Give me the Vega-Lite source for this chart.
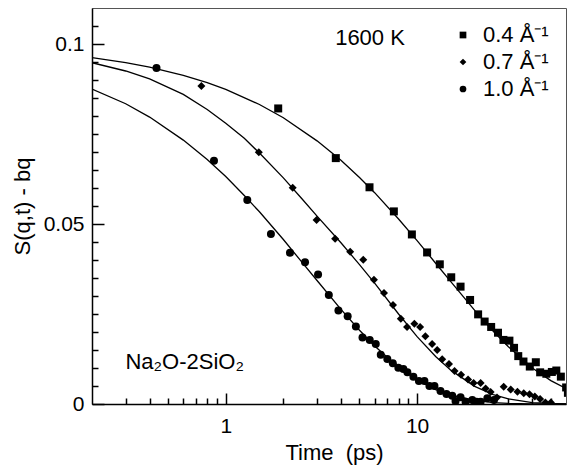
{
  "$schema": "https://vega.github.io/schema/vega-lite/v6.json",
  "width": 474,
  "height": 396,
  "autosize": "none",
  "padding": {"left": 92, "top": 8, "right": 10, "bottom": 62},
  "background": "white",
  "config": {
    "font": "Liberation Sans",
    "view": {"stroke": "#555555", "strokeWidth": 1},
    "axis": {
      "grid": false,
      "domainColor": "black",
      "domainWidth": 1.5,
      "tickColor": "#000000",
      "tickWidth": 1.5,
      "labelColor": "black",
      "titleColor": "black",
      "labelFont": "Liberation Sans",
      "titleFont": "Liberation Sans",
      "titleFontWeight": "normal",
      "labelFontSize": 21,
      "titleFontSize": 22,
      "labelOverlap": false,
      "labelFlush": false
    }
  },
  "resolve": {"axis": {"x": "independent", "y": "independent"}},
  "datasets": {
    "points": [
      {"t": 1.88, "v": 0.0821, "q": "0.4"},
      {"t": 3.76, "v": 0.0683, "q": "0.4"},
      {"t": 5.64, "v": 0.0602, "q": "0.4"},
      {"t": 7.56, "v": 0.0535, "q": "0.4"},
      {"t": 9.39, "v": 0.0471, "q": "0.4"},
      {"t": 11.28, "v": 0.0421, "q": "0.4"},
      {"t": 13.14, "v": 0.0388, "q": "0.4"},
      {"t": 15.08, "v": 0.0352, "q": "0.4"},
      {"t": 16.87, "v": 0.0326, "q": "0.4"},
      {"t": 18.92, "v": 0.0289, "q": "0.4"},
      {"t": 20.84, "v": 0.0249, "q": "0.4"},
      {"t": 22.54, "v": 0.0229, "q": "0.4"},
      {"t": 24.38, "v": 0.0214, "q": "0.4"},
      {"t": 26.47, "v": 0.0198, "q": "0.4"},
      {"t": 28.25, "v": 0.0178, "q": "0.4"},
      {"t": 30.37, "v": 0.0176, "q": "0.4"},
      {"t": 32.11, "v": 0.0156, "q": "0.4"},
      {"t": 33.78, "v": 0.0133, "q": "0.4"},
      {"t": 35.96, "v": 0.0118, "q": "0.4"},
      {"t": 38.81, "v": 0.0104, "q": "0.4"},
      {"t": 41.73, "v": 0.0116, "q": "0.4"},
      {"t": 43.96, "v": 0.0088, "q": "0.4"},
      {"t": 47.36, "v": 0.0084, "q": "0.4"},
      {"t": 50.6, "v": 0.0089, "q": "0.4"},
      {"t": 53.4, "v": 0.0093, "q": "0.4"},
      {"t": 56.4, "v": 0.0076, "q": "0.4"},
      {"t": 60.1, "v": 0.0046, "q": "0.4"},
      {"t": 61.4, "v": 0.0031, "q": "0.4"},
      {"t": 0.746, "v": 0.0883, "q": "0.7"},
      {"t": 1.489, "v": 0.0699, "q": "0.7"},
      {"t": 2.238, "v": 0.0601, "q": "0.7"},
      {"t": 2.983, "v": 0.0511, "q": "0.7"},
      {"t": 3.729, "v": 0.0459, "q": "0.7"},
      {"t": 4.469, "v": 0.0423, "q": "0.7"},
      {"t": 5.229, "v": 0.0401, "q": "0.7"},
      {"t": 5.951, "v": 0.0345, "q": "0.7"},
      {"t": 6.714, "v": 0.0308, "q": "0.7"},
      {"t": 7.484, "v": 0.0275, "q": "0.7"},
      {"t": 8.222, "v": 0.0237, "q": "0.7"},
      {"t": 8.862, "v": 0.0214, "q": "0.7"},
      {"t": 9.679, "v": 0.0223, "q": "0.7"},
      {"t": 10.37, "v": 0.0214, "q": "0.7"},
      {"t": 11.05, "v": 0.0188, "q": "0.7"},
      {"t": 11.98, "v": 0.0167, "q": "0.7"},
      {"t": 12.73, "v": 0.015, "q": "0.7"},
      {"t": 13.52, "v": 0.0124, "q": "0.7"},
      {"t": 14.68, "v": 0.0111, "q": "0.7"},
      {"t": 15.69, "v": 0.0092, "q": "0.7"},
      {"t": 16.97, "v": 0.0081, "q": "0.7"},
      {"t": 18.47, "v": 0.0068, "q": "0.7"},
      {"t": 19.74, "v": 0.0058, "q": "0.7"},
      {"t": 21.47, "v": 0.0058, "q": "0.7"},
      {"t": 22.81, "v": 0.0043, "q": "0.7"},
      {"t": 24.23, "v": 0.0033, "q": "0.7"},
      {"t": 26.15, "v": 0.0018, "q": "0.7"},
      {"t": 28.35, "v": 0.0048, "q": "0.7"},
      {"t": 30.85, "v": 0.004, "q": "0.7"},
      {"t": 33.45, "v": 0.0034, "q": "0.7"},
      {"t": 36.09, "v": 0.003, "q": "0.7"},
      {"t": 38.67, "v": 0.0027, "q": "0.7"},
      {"t": 41.22, "v": 0.0021, "q": "0.7"},
      {"t": 43.96, "v": 0.0014, "q": "0.7"},
      {"t": 46.8, "v": 0.0004, "q": "0.7"},
      {"t": 50.0, "v": 0.0004, "q": "0.7"},
      {"t": 0.4346, "v": 0.0933, "q": "1.0"},
      {"t": 0.868, "v": 0.0676, "q": "1.0"},
      {"t": 1.296, "v": 0.0567, "q": "1.0"},
      {"t": 1.722, "v": 0.0472, "q": "1.0"},
      {"t": 2.166, "v": 0.042, "q": "1.0"},
      {"t": 2.596, "v": 0.0394, "q": "1.0"},
      {"t": 3.037, "v": 0.036, "q": "1.0"},
      {"t": 3.456, "v": 0.0303, "q": "1.0"},
      {"t": 3.88, "v": 0.026, "q": "1.0"},
      {"t": 4.336, "v": 0.0244, "q": "1.0"},
      {"t": 4.787, "v": 0.0215, "q": "1.0"},
      {"t": 5.184, "v": 0.0185, "q": "1.0"},
      {"t": 5.655, "v": 0.0178, "q": "1.0"},
      {"t": 6.081, "v": 0.0167, "q": "1.0"},
      {"t": 6.459, "v": 0.0137, "q": "1.0"},
      {"t": 6.987, "v": 0.0125, "q": "1.0"},
      {"t": 7.467, "v": 0.0113, "q": "1.0"},
      {"t": 7.978, "v": 0.0101, "q": "1.0"},
      {"t": 8.476, "v": 0.0097, "q": "1.0"},
      {"t": 8.896, "v": 0.0088, "q": "1.0"},
      {"t": 9.563, "v": 0.0076, "q": "1.0"},
      {"t": 10.22, "v": 0.0064, "q": "1.0"},
      {"t": 10.92, "v": 0.0064, "q": "1.0"},
      {"t": 11.6, "v": 0.005, "q": "1.0"},
      {"t": 12.32, "v": 0.005, "q": "1.0"},
      {"t": 13.25, "v": 0.0036, "q": "1.0"},
      {"t": 14.24, "v": 0.0028, "q": "1.0"},
      {"t": 15.26, "v": 0.0023, "q": "1.0"},
      {"t": 15.88, "v": 0.0008, "q": "1.0"},
      {"t": 16.87, "v": 0.0019, "q": "1.0"},
      {"t": 17.92, "v": 0.0006, "q": "1.0"},
      {"t": 19.43, "v": 0.0011, "q": "1.0"},
      {"t": 20.46, "v": 0.0006, "q": "1.0"},
      {"t": 21.47, "v": 0.0006, "q": "1.0"},
      {"t": 23.28, "v": 0.0016, "q": "1.0"},
      {"t": 25.21, "v": 0.0011, "q": "1.0"}
    ],
    "curves": [
      {"t": 0.2, "v": 0.0962, "q": "0.4"},
      {"t": 0.3, "v": 0.0948, "q": "0.4"},
      {"t": 0.4, "v": 0.0936, "q": "0.4"},
      {"t": 0.6, "v": 0.0913, "q": "0.4"},
      {"t": 0.8, "v": 0.0893, "q": "0.4"},
      {"t": 1, "v": 0.0874, "q": "0.4"},
      {"t": 1.5, "v": 0.0832, "q": "0.4"},
      {"t": 2, "v": 0.0795, "q": "0.4"},
      {"t": 3, "v": 0.0731, "q": "0.4"},
      {"t": 4, "v": 0.0677, "q": "0.4"},
      {"t": 5, "v": 0.0629, "q": "0.4"},
      {"t": 6, "v": 0.0587, "q": "0.4"},
      {"t": 8, "v": 0.0514, "q": "0.4"},
      {"t": 10, "v": 0.0454, "q": "0.4"},
      {"t": 12.5, "v": 0.0391, "q": "0.4"},
      {"t": 15, "v": 0.034, "q": "0.4"},
      {"t": 20, "v": 0.026, "q": "0.4"},
      {"t": 25, "v": 0.0202, "q": "0.4"},
      {"t": 30, "v": 0.0159, "q": "0.4"},
      {"t": 40, "v": 0.01, "q": "0.4"},
      {"t": 50, "v": 0.0065, "q": "0.4"},
      {"t": 60, "v": 0.0043, "q": "0.4"},
      {"t": 0.2, "v": 0.0948, "q": "0.7"},
      {"t": 0.3, "v": 0.0925, "q": "0.7"},
      {"t": 0.4, "v": 0.0903, "q": "0.7"},
      {"t": 0.6, "v": 0.086, "q": "0.7"},
      {"t": 0.8, "v": 0.0818, "q": "0.7"},
      {"t": 1, "v": 0.078, "q": "0.7"},
      {"t": 1.25, "v": 0.0738, "q": "0.7"},
      {"t": 1.5, "v": 0.0697, "q": "0.7"},
      {"t": 2, "v": 0.0628, "q": "0.7"},
      {"t": 2.5, "v": 0.057, "q": "0.7"},
      {"t": 3, "v": 0.0522, "q": "0.7"},
      {"t": 4, "v": 0.0448, "q": "0.7"},
      {"t": 5, "v": 0.0387, "q": "0.7"},
      {"t": 6, "v": 0.0336, "q": "0.7"},
      {"t": 8, "v": 0.025, "q": "0.7"},
      {"t": 10, "v": 0.0187, "q": "0.7"},
      {"t": 12.5, "v": 0.0132, "q": "0.7"},
      {"t": 15, "v": 0.0094, "q": "0.7"},
      {"t": 20, "v": 0.0049, "q": "0.7"},
      {"t": 25, "v": 0.0026, "q": "0.7"},
      {"t": 30, "v": 0.0014, "q": "0.7"},
      {"t": 40, "v": 0.0004, "q": "0.7"},
      {"t": 50, "v": 0.00014, "q": "0.7"},
      {"t": 60, "v": 0.00005, "q": "0.7"},
      {"t": 0.2, "v": 0.0875, "q": "1.0"},
      {"t": 0.3, "v": 0.0834, "q": "1.0"},
      {"t": 0.4, "v": 0.0797, "q": "1.0"},
      {"t": 0.6, "v": 0.0733, "q": "1.0"},
      {"t": 0.8, "v": 0.0679, "q": "1.0"},
      {"t": 1, "v": 0.0632, "q": "1.0"},
      {"t": 1.25, "v": 0.0579, "q": "1.0"},
      {"t": 1.5, "v": 0.0534, "q": "1.0"},
      {"t": 2, "v": 0.0457, "q": "1.0"},
      {"t": 2.5, "v": 0.0394, "q": "1.0"},
      {"t": 3, "v": 0.0343, "q": "1.0"},
      {"t": 4, "v": 0.0263, "q": "1.0"},
      {"t": 5, "v": 0.0205, "q": "1.0"},
      {"t": 6, "v": 0.0161, "q": "1.0"},
      {"t": 8, "v": 0.0102, "q": "1.0"},
      {"t": 10, "v": 0.0067, "q": "1.0"},
      {"t": 12.5, "v": 0.004, "q": "1.0"},
      {"t": 15, "v": 0.0025, "q": "1.0"},
      {"t": 20, "v": 0.001, "q": "1.0"},
      {"t": 25, "v": 0.0004, "q": "1.0"},
      {"t": 30, "v": 0.0002, "q": "1.0"},
      {"t": 40, "v": 0.00004, "q": "1.0"},
      {"t": 60, "v": 0.0, "q": "1.0"}
    ],
    "labels": [
      {"t": 3.73, "v": 0.0997, "label": "1600 K"},
      {"t": 0.299, "v": 0.0096, "label": "Na₂O-2SiO₂"}
    ]
  },
  "layer": [
    {
      "data": {"name": "curves"},
      "mark": {"type": "line", "color": "black", "strokeWidth": 1.3, "clip": true},
      "encoding": {
        "x": {
          "field": "t",
          "type": "quantitative",
          "scale": {"type": "log", "domain": [0.2, 60], "nice": false},
          "axis": {
            "orient": "bottom",
            "title": "Time\u00a0 (ps)",
            "values": [1, 10],
            "labelExpr": "datum.value == 1 ? '1' : '10'",
            "tickSize": -11,
            "labelPadding": 22,
            "titleX": 242,
            "titleY": 55,
            "titleBaseline": "alphabetic"
          }
        },
        "y": {
          "field": "v",
          "type": "quantitative",
          "scale": {"domain": [0, 0.11], "nice": false},
          "axis": {
            "orient": "left",
            "title": "S(q,t) - bq",
            "values": [0, 0.05, 0.1],
            "labelExpr": "datum.value == 0 ? '0' : (datum.value == 0.05 ? '0.05' : '0.1')",
            "tickSize": -12,
            "labelPadding": 20,
            "titleX": -70,
            "titleY": 198,
            "titleAlign": "center",
            "titleBaseline": "middle"
          }
        },
        "detail": {"field": "q", "type": "nominal"}
      }
    },
    {
      "data": {"name": "points"},
      "mark": {"type": "point", "filled": true, "color": "black", "opacity": 1, "size": 64, "clip": true},
      "encoding": {
        "x": {
          "field": "t",
          "type": "quantitative",
          "scale": {"type": "log", "domain": [0.2, 60], "nice": false},
          "axis": {
            "orient": "bottom",
            "title": null,
            "values": [0.3, 0.4, 0.5, 0.6, 0.7, 0.8, 0.9, 2, 3, 4, 5, 6, 7, 8, 9, 20, 30, 40, 50],
            "labels": false,
            "tickSize": -6,
            "domain": false
          }
        },
        "y": {
          "field": "v",
          "type": "quantitative",
          "scale": {"domain": [0, 0.11], "nice": false},
          "axis": {
            "orient": "left",
            "title": null,
            "values": [0.005, 0.01, 0.015, 0.02, 0.025, 0.03, 0.035, 0.04, 0.045, 0.055, 0.06, 0.065, 0.07, 0.075, 0.08, 0.085, 0.09, 0.095, 0.105],
            "labels": false,
            "tickSize": -6,
            "domain": false
          }
        },
        "shape": {
          "field": "q",
          "type": "nominal",
          "scale": {"domain": ["0.4", "0.7", "1.0"], "range": ["square", "diamond", "circle"]},
          "legend": {
            "orient": "none",
            "legendX": 360,
            "legendY": 16,
            "title": null,
            "padding": 0,
            "labelFontSize": 22,
            "labelFont": "Liberation Sans",
            "labelColor": "black",
            "labelExpr": "datum.label + ' Å⁻¹'",
            "symbolSize": 45,
            "symbolFillColor": "black",
            "symbolOpacity": 1,
            "symbolStrokeWidth": 0,
            "labelOffset": 9,
            "rowPadding": 5
          }
        }
      }
    },
    {
      "data": {"name": "labels"},
      "mark": {"type": "text", "align": "left", "baseline": "alphabetic", "fontSize": 22, "font": "Liberation Sans", "color": "black"},
      "encoding": {
        "x": {"field": "t", "type": "quantitative", "scale": {"type": "log", "domain": [0.2, 60], "nice": false},
          "axis": {"orient": "bottom", "title": null, "labels": false, "ticks": false, "domain": false, "values": [1]}},
        "y": {"field": "v", "type": "quantitative", "scale": {"domain": [0, 0.11], "nice": false},
          "axis": {"orient": "left", "title": null, "labels": false, "ticks": false, "domain": false, "values": [0]}},
        "text": {"field": "label", "type": "nominal"}
      }
    }
  ]
}
